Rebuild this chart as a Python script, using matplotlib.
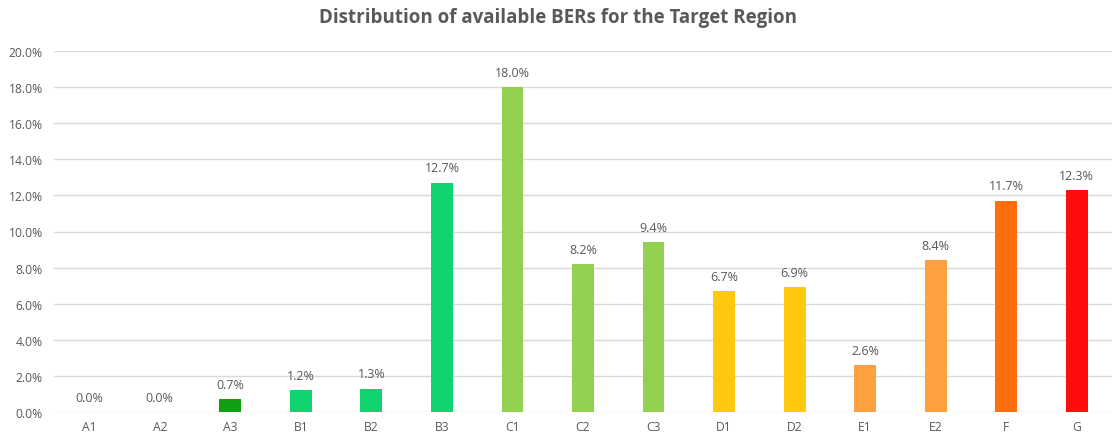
import matplotlib
matplotlib.use('Agg')
import matplotlib.pyplot as plt
from matplotlib.ticker import PercentFormatter

categories = ['A1', 'A2', 'A3', 'B1', 'B2', 'B3', 'C1', 'C2', 'C3',
              'D1', 'D2', 'E1', 'E2', 'F', 'G']
values = [0.0, 0.0, 0.7, 1.2, 1.3, 12.7, 18.0, 8.2, 9.4,
          6.7, 6.9, 2.6, 8.4, 11.7, 12.3]
colors = ['#12A012', '#12A012', '#12A012', '#12D46E', '#12D46E', '#12D46E',
          '#92D050', '#92D050', '#92D050', '#FFC90E', '#FFC90E',
          '#FFA040', '#FFA040', '#FF6E0C', '#FF0C0C']

plt.rcParams['font.family'] = ['Open Sans', 'DejaVu Sans']
grey = '#595959'

fig = plt.figure(figsize=(11.16, 4.39), dpi=100)
ax = fig.add_axes([54 / 1116, 26 / 439, 1058 / 1116, 361 / 439])

x = range(len(categories))
bars = ax.bar(x, values, width=0.31, color=colors, zorder=3)
ax.bar_label(bars, labels=[f'{v:.1f}%' for v in values], padding=6,
             fontsize=9, color=grey)

ax.set_xlim(-0.5, len(categories) - 0.5)
ax.set_ylim(0, 20)
ax.set_yticks([i * 2 for i in range(11)])
ax.yaxis.set_major_formatter(PercentFormatter(decimals=1))
ax.set_xticks(list(x))
ax.set_xticklabels(categories)
ax.tick_params(length=0, labelsize=8.7, colors=grey)
ax.tick_params(axis='y', pad=8)
ax.tick_params(axis='x', pad=6)
ax.grid(axis='y', color='#D9D9D9', linewidth=1, zorder=0)
for s in ax.spines.values():
    s.set_visible(False)

fig.text(0.5, 1 - 18 / 439, 'Distribution of available BERs for the Target Region',
         ha='center', va='center', fontsize=13.5, fontweight='bold', color=grey)

fig.savefig('out.png', dpi=100)
